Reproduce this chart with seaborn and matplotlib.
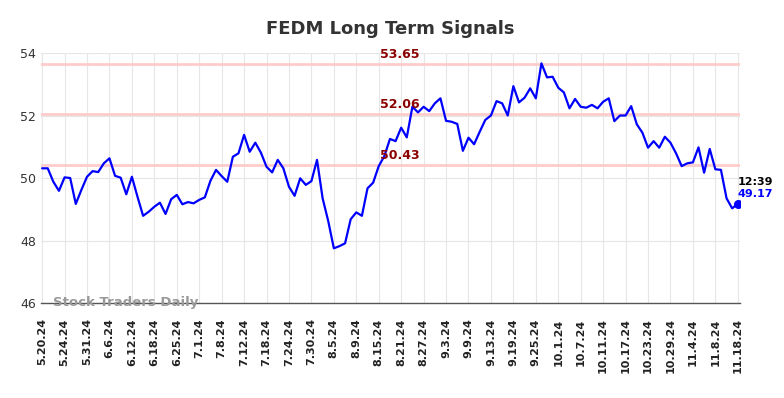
import seaborn as sns
import matplotlib.pyplot as plt
import pandas as pd

# closing prices, one per trading session
prices = [50.31, 50.31, 49.88, 49.59, 50.02, 50.00, 49.17, 49.62, 50.04, 50.22,
          50.19, 50.47, 50.63, 50.07, 50.01, 49.48, 50.04, 49.40, 48.79, 48.92,
          49.08, 49.21, 48.85, 49.32, 49.46, 49.16, 49.23, 49.19, 49.30, 49.38,
          49.91, 50.26, 50.06, 49.88, 50.68, 50.79, 51.38, 50.84, 51.13, 50.81,
          50.36, 50.18, 50.58, 50.31, 49.72, 49.43, 49.99, 49.78, 49.90, 50.58,
          49.35, 48.62, 47.75, 47.82, 47.91, 48.68, 48.90, 48.79, 49.67, 49.85,
          50.38, 50.70, 51.25, 51.18, 51.61, 51.30, 52.28, 52.10, 52.28, 52.14,
          52.39, 52.55, 51.83, 51.80, 51.73, 50.87, 51.29, 51.08, 51.48, 51.86,
          52.00, 52.46, 52.39, 52.00, 52.94, 52.42, 52.57, 52.87, 52.55, 53.67,
          53.22, 53.24, 52.89, 52.74, 52.23, 52.53, 52.28, 52.25, 52.34, 52.23,
          52.44, 52.55, 51.82, 52.00, 52.00, 52.30, 51.72, 51.45, 50.97, 51.18,
          50.97, 51.32, 51.13, 50.79, 50.38, 50.47, 50.50, 50.98, 50.17, 50.93,
          50.28, 50.26, 49.35, 49.03, 49.17]
tick_labels = ['5.20.24', '5.24.24', '5.31.24', '6.6.24', '6.12.24', '6.18.24', '6.25.24',
               '7.1.24', '7.8.24', '7.12.24', '7.18.24', '7.24.24', '7.30.24', '8.5.24',
               '8.9.24', '8.15.24', '8.21.24', '8.27.24', '9.3.24', '9.9.24', '9.13.24',
               '9.19.24', '9.25.24', '10.1.24', '10.7.24', '10.11.24', '10.17.24',
               '10.23.24', '10.29.24', '11.4.24', '11.8.24', '11.18.24']
levels = [53.65, 52.06, 50.43]
last_time = '12:39'

df = pd.DataFrame({'idx': range(len(prices)), 'price': prices})

sns.set_style("whitegrid", {'grid.color': '#e6e6e6'})
fig = plt.figure(figsize=(7.84, 3.98), dpi=100)
ax = fig.add_axes([0.0523, 0.2387, 0.8916, 0.6281])

# support / resistance levels
for lv in levels:
    ax.axhline(lv, color='#ffcccc', lw=2, zorder=1)
    ax.text(len(prices) * 0.51, lv + 0.08, f'{lv:.2f}', color='#8b0000',
            fontsize=9, fontweight='bold', ha='center', va='bottom', zorder=3)

sns.lineplot(data=df, x='idx', y='price', color='blue', lw=1.6, ax=ax, zorder=2)

# last price marker
last = len(prices) - 1
ax.scatter([last], [prices[-1]], color='blue', s=30, zorder=4)
ax.text(last, prices[-1] + 0.55, last_time, fontsize=8, fontweight='bold', color='black', ha='left', va='bottom')
ax.text(last, prices[-1] + 0.15, f'{prices[-1]:.2f}', fontsize=8, fontweight='bold', color='blue', ha='left', va='bottom')

ax.set_xlim(-0.2, last + 0.4)
ax.set_ylim(46, 54)
ax.set_yticks([46, 48, 50, 52, 54])
ticks = list(range(0, len(prices), 4))
ax.set_xticks(ticks)
ax.set_xticklabels(tick_labels, rotation=90, fontsize=8, fontweight='bold')
ax.tick_params(axis='y', labelsize=9, colors='#333333', length=0)
ax.tick_params(axis='x', colors='#222222', length=0, pad=11)

for side in ['top', 'right', 'left']:
    ax.spines[side].set_visible(False)
ax.spines['bottom'].set_color('#555555')
ax.spines['bottom'].set_linewidth(1)

ax.set_xlabel('')
ax.set_ylabel('')
ax.set_title('FEDM Long Term Signals', fontsize=13, fontweight='bold', color='#333333', pad=14)

ax.text(0.017, 0.0, 'Stock Traders Daily', transform=ax.transAxes, fontsize=9.5,
        fontweight='bold', color='#999999', ha='left', va='center')

plt.savefig('out.png', dpi=100)
